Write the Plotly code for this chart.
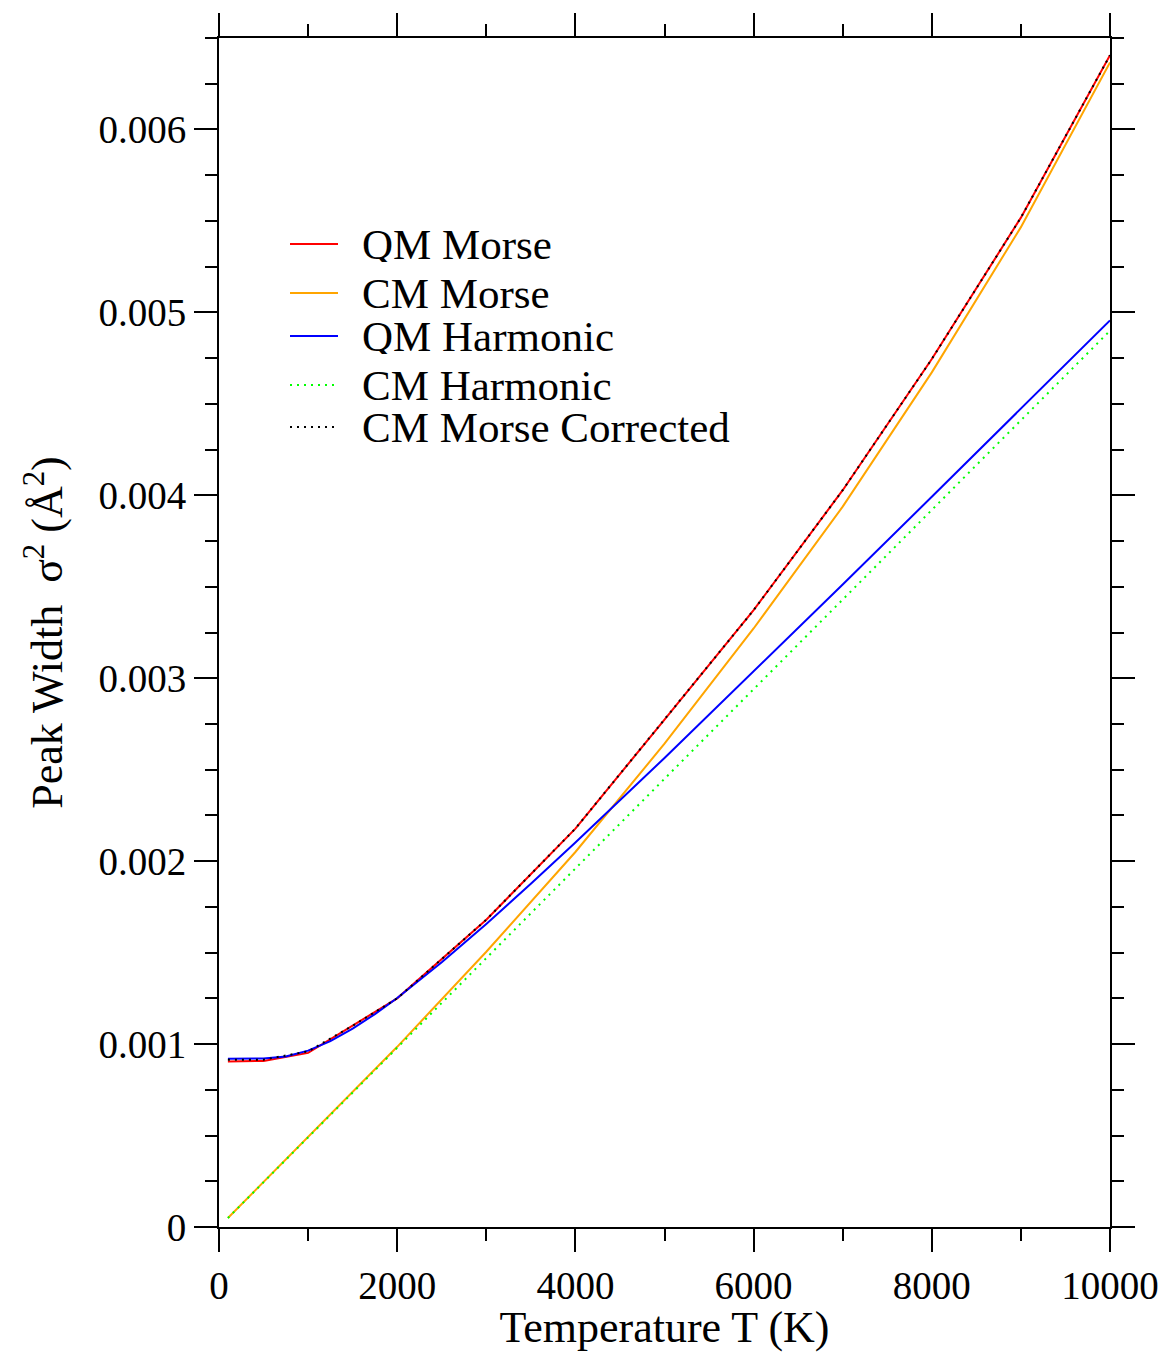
import plotly.graph_objects as go

# Temperature grid (K)
T_pts = [100, 500, 1000, 1500, 2000, 3000, 4000, 5000, 6000, 7000, 8000, 9000, 10000]

qm_morse = [0.000905, 0.000908, 0.000952, 0.001100, 0.001250, 0.001680, 0.002178,
            0.002774, 0.003372, 0.004028, 0.004745, 0.005518, 0.006406]
cm_morse = [0.000049, 0.000245, 0.000490, 0.000736, 0.000985, 0.001505, 0.002050,
            0.002642, 0.003272, 0.003938, 0.004672, 0.005466, 0.006366]
cm_morse_corr = [0.000915, 0.000915, 0.000960, 0.001100, 0.001250, 0.001680, 0.002178,
                 0.002774, 0.003372, 0.004028, 0.004745, 0.005518, 0.006406]

T_harm = [100, 250, 500, 750, 1000, 1250, 1500, 1750, 2000, 2500, 3000, 3500, 4000,
          5000, 6000, 7000, 8000, 9000, 10000]
qm_harm = [0.000920, 0.000920, 0.000921, 0.000932, 0.000964, 0.001016, 0.001084,
           0.001164, 0.001252, 0.001447, 0.001657, 0.001876, 0.002102,
           0.002564, 0.003036, 0.003512, 0.003992, 0.004474, 0.004956]
cm_harm = [0.000049, 0.0001225, 0.000245, 0.0003675, 0.000490, 0.0006125, 0.000735,
           0.0008575, 0.000980, 0.001225, 0.001470, 0.001715, 0.001960,
           0.002450, 0.002940, 0.003430, 0.003920, 0.004410, 0.004900]

names = ["QM Morse", "CM Morse", "QM Harmonic", "CM Harmonic", "CM Morse Corrected"]
colors = ["#ff0000", "#ffa500", "#0000ff", "#00ff00", "#000000"]
dashes = ["solid", "solid", "solid", "2px,5px", "2px,5px"]

FONT = "Liberation Serif"

fig = go.Figure()
series = [(T_pts, qm_morse), (T_pts, cm_morse), (T_harm, qm_harm),
          (T_harm, cm_harm), (T_pts, cm_morse_corr)]
for (xs, ys), nm, c, d in zip(series, names, colors, dashes):
    fig.add_trace(go.Scatter(x=xs, y=ys, mode="lines", name=nm, showlegend=False,
                             line=dict(color=c, width=2, dash=d)))

axis_common = dict(
    showgrid=False, zeroline=False, showline=True, linecolor="black", linewidth=2,
    mirror="allticks", ticks="outside", ticklen=23, tickwidth=2, tickcolor="black",
    tickfont=dict(family=FONT, size=39, color="black"), automargin=False,
)

fig.update_xaxes(
    range=[0, 10000], dtick=2000, tick0=0, tickformat="d",
    minor=dict(dtick=1000, ticks="outside", ticklen=12, tickwidth=2, tickcolor="black"),
    title=dict(text="Temperature T (K)", font=dict(family=FONT, size=44, color="black"),
               standoff=6),
    **axis_common,
)
fig.update_yaxes(
    range=[0, 0.0065], dtick=0.001, tick0=0,
    minor=dict(dtick=0.00025, ticks="outside", ticklen=12, tickwidth=2, tickcolor="black"),
    title=dict(text="Peak Width  σ<sup>2</sup> (Å<sup>2</sup>)",
               font=dict(family=FONT, size=44, color="black"), standoff=22),
    **axis_common,
)

# Manual legend (pixel layout of the plot area: x 219..1110, y 38..1227)
def px_x(px):
    return (px - 219) / 891.0

def px_y(py):
    return (1227 - py) / 1189.0

legend_rows = [244, 293, 336, 385, 427]
shapes = []
annotations = []
for nm, c, d, ry in zip(names, colors, dashes, legend_rows):
    shapes.append(dict(type="line", xref="paper", yref="paper",
                       x0=px_x(290), x1=px_x(338), y0=px_y(ry), y1=px_y(ry),
                       line=dict(color=c, width=2, dash=d)))
    annotations.append(dict(xref="paper", yref="paper", x=px_x(360), y=px_y(ry),
                            xanchor="left", yanchor="middle", showarrow=False,
                            height=36, valign="middle",
                            text=nm, font=dict(family=FONT, size=43, color="black")))

fig.update_layout(
    width=1165, height=1352,
    margin=dict(l=219, r=55, t=38, b=125, autoexpand=False),
    plot_bgcolor="white", paper_bgcolor="white",
    font=dict(family=FONT, color="black"),
    shapes=shapes, annotations=annotations,
    showlegend=False,
)

fig.write_html("out.html")
